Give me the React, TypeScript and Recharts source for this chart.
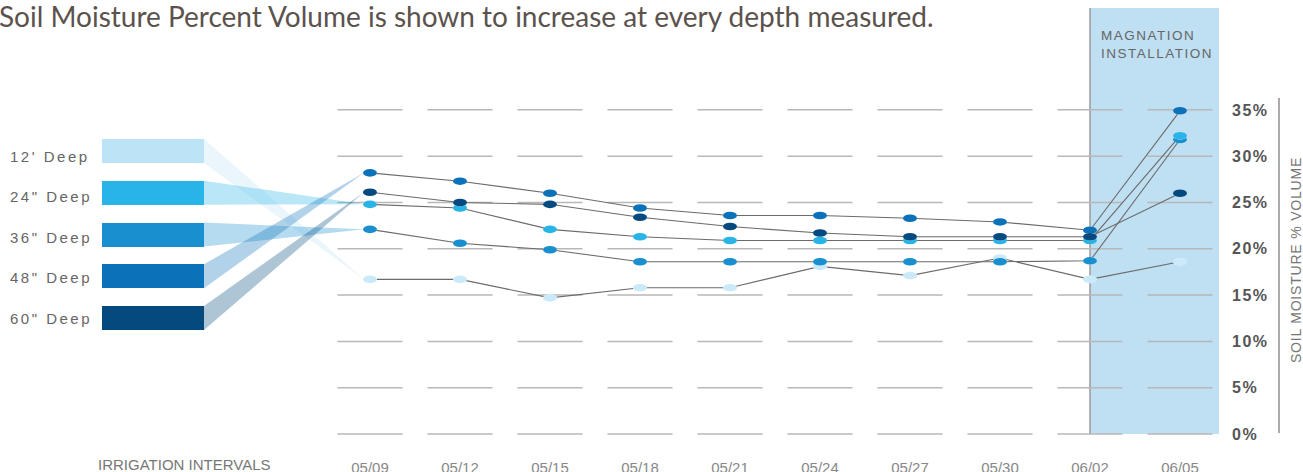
import React from 'react';
import { LineChart, Line, XAxis, YAxis, ReferenceArea, ReferenceLine } from 'recharts';

const dates = ['05/09', '05/12', '05/15', '05/18', '05/21', '05/24', '05/27', '05/30', '06/02', '06/05'];
const deep12 = [16.7, 16.7, 14.7, 15.8, 15.8, 18.1, 17.1, 19.0, 16.7, 18.6];
const deep24 = [24.8, 24.4, 22.1, 21.3, 20.9, 20.9, 20.9, 20.9, 20.9, 32.2];
const deep36 = [22.1, 20.6, 19.9, 18.6, 18.6, 18.6, 18.6, 18.6, 18.7, 31.8];
const deep48 = [28.2, 27.3, 26.0, 24.4, 23.6, 23.6, 23.3, 22.9, 22.0, 34.9];
const deep60 = [26.1, 25.0, 24.8, 23.4, 22.4, 21.7, 21.3, 21.3, 21.3, 26.0];
const yTicks = [0, 5, 10, 15, 20, 25, 30, 35];
const installDate = '06/02';

const data = dates.map((d, i) => ({
  date: d,
  deep12: deep12[i],
  deep24: deep24[i],
  deep36: deep36[i],
  deep48: deep48[i],
  deep60: deep60[i],
}));

// legend order (top to bottom)
const legend = [
  { key: 'deep12', name: "12' Deep", color: '#bde3f7', dotOpacity: 0.8 },
  { key: 'deep24', name: '24" Deep', color: '#29b4e8', dotOpacity: 1 },
  { key: 'deep36', name: '36" Deep', color: '#1a8fd0', dotOpacity: 1 },
  { key: 'deep48', name: '48" Deep', color: '#0b72b9', dotOpacity: 1 },
  { key: 'deep60', name: '60" Deep', color: '#044a7e', dotOpacity: 1 },
];
// drawing order of the lines
const drawOrder = ['deep12', 'deep36', 'deep24', 'deep48', 'deep60'];

const LEG_X = 102;
const LEG_W = 102;
const LEG_TOP = 139;
const LEG_STEP = 41.75;
const LEG_H = 24;

const sans = "'Liberation Sans', Arial, Helvetica, sans-serif";

const makeDot = (color: string, idx: number, opacity: number) => (props: any) => {
  const { cx, cy, index } = props;
  const top = LEG_TOP + idx * LEG_STEP;
  return (
    <g key={`dot-${idx}-${index}`}>
      {index === 0 && (
        <polygon
          points={`${LEG_X + LEG_W},${top} ${LEG_X + LEG_W},${top + LEG_H} ${cx - 6},${cy}`}
          fill={color}
          fillOpacity={0.32}
        />
      )}
      <ellipse cx={cx} cy={cy} rx={7} ry={3.8} fill="#fff" />
      <ellipse cx={cx} cy={cy} rx={7} ry={3.8} fill={color} fillOpacity={opacity} />
    </g>
  );
};

// shaded band runs past the last point to the edge of the gridlines
const InstallBand = (props: any) => {
  const { x, y, width, height } = props;
  return <rect x={x} y={y} width={width + 39} height={height} fill="#bfdff2" />;
};

export default function App() {
  return (
    <div style={{ position: 'absolute', left: 0, top: 0, width: 1303, height: 472, overflow: 'hidden', background: '#fff' }}>
      <LineChart width={1303} height={472} data={data} margin={{ top: 8, right: 28, bottom: 0, left: 325 }}>
        <XAxis
          dataKey="date"
          padding={{ left: 45, right: 45 }}
          axisLine={false}
          tickLine={false}
          tickSize={0}
          tickMargin={28}
          height={38}
          interval={0}
          tick={{ fill: '#888', fontSize: 15, fontFamily: sans }}
        />
        <YAxis
          orientation="right"
          domain={[0, 46]}
          ticks={yTicks}
          width={50}
          axisLine={false}
          tickLine={false}
          tickSize={0}
          tickMargin={7}
          tickFormatter={(v: number) => `${v}%`}
          tick={{ fill: '#555', fontSize: 16, fontWeight: 700, fontFamily: sans, letterSpacing: 1.5 }}
        />
        <ReferenceArea x1={installDate} stroke="none" ifOverflow="visible" shape={InstallBand} />
        <ReferenceLine x={installDate} stroke="#9a9a9a" strokeWidth={1.5} />
        {yTicks.map((t) => (
          <ReferenceLine key={t} y={t} stroke="#b8b8b8" strokeWidth={1.5} strokeDasharray="0 12.5 65 12.5" />
        ))}
        {drawOrder.map((k) => {
          const idx = legend.findIndex((l) => l.key === k);
          const s = legend[idx];
          return (
            <Line
              key={k}
              dataKey={k}
              name={s.name}
              stroke="#6b6b6b"
              strokeWidth={1.1}
              dot={makeDot(s.color, idx, s.dotOpacity)}
              activeDot={false}
              isAnimationActive={false}
            />
          );
        })}
      </LineChart>

      <div style={{ position: 'absolute', left: -1, top: 1, fontFamily: 'Lato, sans-serif', fontSize: 28, lineHeight: '30px', color: '#5b524d', whiteSpace: 'nowrap' }}>
        Soil Moisture Percent Volume is shown to increase at every depth measured.
      </div>

      {legend.map((l, i) => (
        <React.Fragment key={l.key}>
          <div style={{ position: 'absolute', left: 10, top: 140 + i * 40.4, height: LEG_H, lineHeight: `${LEG_H + 10}px`, fontFamily: sans, fontSize: 15, letterSpacing: 2.5, color: '#666', whiteSpace: 'nowrap' }}>
            {l.name}
          </div>
          <div style={{ position: 'absolute', left: LEG_X, top: LEG_TOP + i * LEG_STEP, width: LEG_W, height: LEG_H, background: l.color }} />
        </React.Fragment>
      ))}

      <div style={{ position: 'absolute', left: 1101, top: 27, fontFamily: sans, fontSize: 13.5, lineHeight: '18px', letterSpacing: 1.5, color: '#666' }}>
        MAGNATION<br />INSTALLATION
      </div>

      <div style={{ position: 'absolute', left: 1278, top: 98, width: 1.5, height: 335, background: '#aaa' }} />
      <div style={{ position: 'absolute', left: 1296, top: 260, transform: 'translate(-50%, -50%) rotate(-90deg)', fontFamily: sans, fontSize: 14, letterSpacing: 0.8, color: '#777', whiteSpace: 'nowrap' }}>
        SOIL MOISTURE % VOLUME
      </div>

      <div style={{ position: 'absolute', left: 98, top: 456, fontFamily: sans, fontSize: 15, lineHeight: '18px', color: '#777', whiteSpace: 'nowrap' }}>
        IRRIGATION INTERVALS
      </div>
    </div>
  );
}
